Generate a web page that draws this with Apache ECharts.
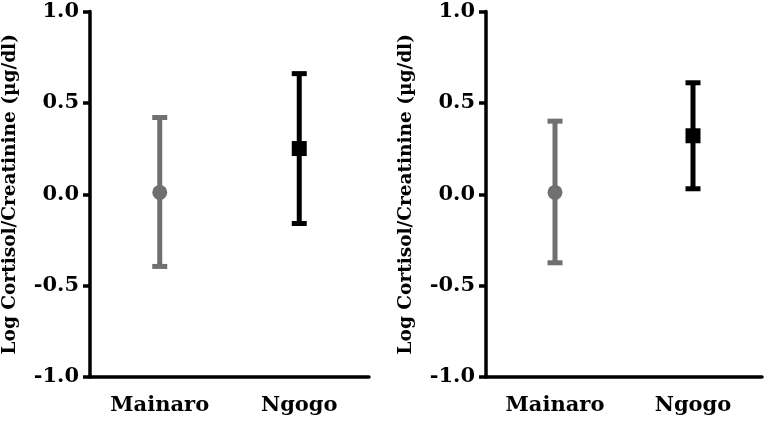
<!DOCTYPE html>
<html><head><meta charset="utf-8">
<script src="https://cdn.jsdelivr.net/npm/echarts@6/dist/echarts.min.js"></script>
<style>html,body{margin:0;padding:0;background:#fff}#c{width:764px;height:422px}</style>
</head><body><div id="c"></div>
<script>
const categories = ['Mainaro', 'Ngogo'];
const yTicks = [-1.0, -0.5, 0.0, 0.5, 1.0];
const yTitle = 'Log Cortisol/Creatinine (µg/dl)';
// Left panel
const leftMean = [0.01, 0.25];
const leftLow = [-0.395, -0.16];
const leftHigh = [0.42, 0.66];
// Right panel
const rightMean = [0.01, 0.32];
const rightLow = [-0.375, 0.03];
const rightHigh = [0.40, 0.61];

const colors = ['#707070', '#000000'];
const symbols = ['circle', 'rect'];
const FONT = 'DejaVu Serif';

const chart = echarts.init(document.getElementById('c'), null, {renderer: 'canvas'});

function xAxis(gi) {
  return {
    type: 'category', gridIndex: gi, data: categories, boundaryGap: true,
    axisLine: {onZero: false, lineStyle: {color: '#000', width: 3.5}},
    axisTick: {alignWithLabel: true, length: 7, lineStyle: {width: 3.5, color: '#000'}},
    axisLabel: {color: '#000', fontFamily: FONT, fontWeight: 'bold', fontSize: 21, margin: 18},
    splitLine: {show: false}
  };
}
function yAxis(gi) {
  return {
    type: 'value', gridIndex: gi, min: yTicks[0], max: yTicks[yTicks.length - 1], interval: 0.5,
    name: yTitle, nameLocation: 'middle', nameGap: 70,
    nameTextStyle: {color: '#000', fontFamily: FONT, fontWeight: 'bold', fontSize: 18.5},
    axisLine: {show: true, onZero: false, lineStyle: {color: '#000', width: 3.5}},
    axisTick: {show: true, length: 7, lineStyle: {width: 3.5, color: '#000'}},
    axisLabel: {color: '#000', fontFamily: FONT, fontWeight: 'bold', fontSize: 21, margin: 11,
      formatter: v => v.toFixed(1)},
    splitLine: {show: false}
  };
}
function errSeries(gi, low, high) {
  return {
    type: 'custom', xAxisIndex: gi, yAxisIndex: gi, z: 2,
    data: categories.map((c, i) => [i, low[i], high[i]]),
    renderItem: function (params, api) {
      const i = api.value(0);
      const top = api.coord([i, api.value(2)]);
      const bot = api.coord([i, api.value(1)]);
      const col = colors[i];
      const hw = 7.5;
      const st = {stroke: col, lineWidth: 5};
      return {type: 'group', children: [
        {type: 'line', shape: {x1: top[0], y1: top[1], x2: bot[0], y2: bot[1]}, style: st},
        {type: 'line', shape: {x1: top[0] - hw, y1: top[1], x2: top[0] + hw, y2: top[1]}, style: st},
        {type: 'line', shape: {x1: bot[0] - hw, y1: bot[1], x2: bot[0] + hw, y2: bot[1]}, style: st}
      ]};
    }
  };
}
function meanSeries(gi, mean) {
  return {
    type: 'scatter', xAxisIndex: gi, yAxisIndex: gi, z: 3,
    data: categories.map((c, i) => ({
      value: [i, mean[i]], symbol: symbols[i], symbolSize: 15,
      itemStyle: {color: colors[i], opacity: 1}
    }))
  };
}

chart.setOption({
  animation: false,
  backgroundColor: '#fff',
  grid: [
    {left: 90, right: 395, top: 11.5, bottom: 45},
    {left: 486, right: 2, top: 11.5, bottom: 45}
  ],
  xAxis: [xAxis(0), xAxis(1)],
  yAxis: [yAxis(0), yAxis(1)],
  series: [
    errSeries(0, leftLow, leftHigh), meanSeries(0, leftMean),
    errSeries(1, rightLow, rightHigh), meanSeries(1, rightMean)
  ]
});
</script></body></html>
